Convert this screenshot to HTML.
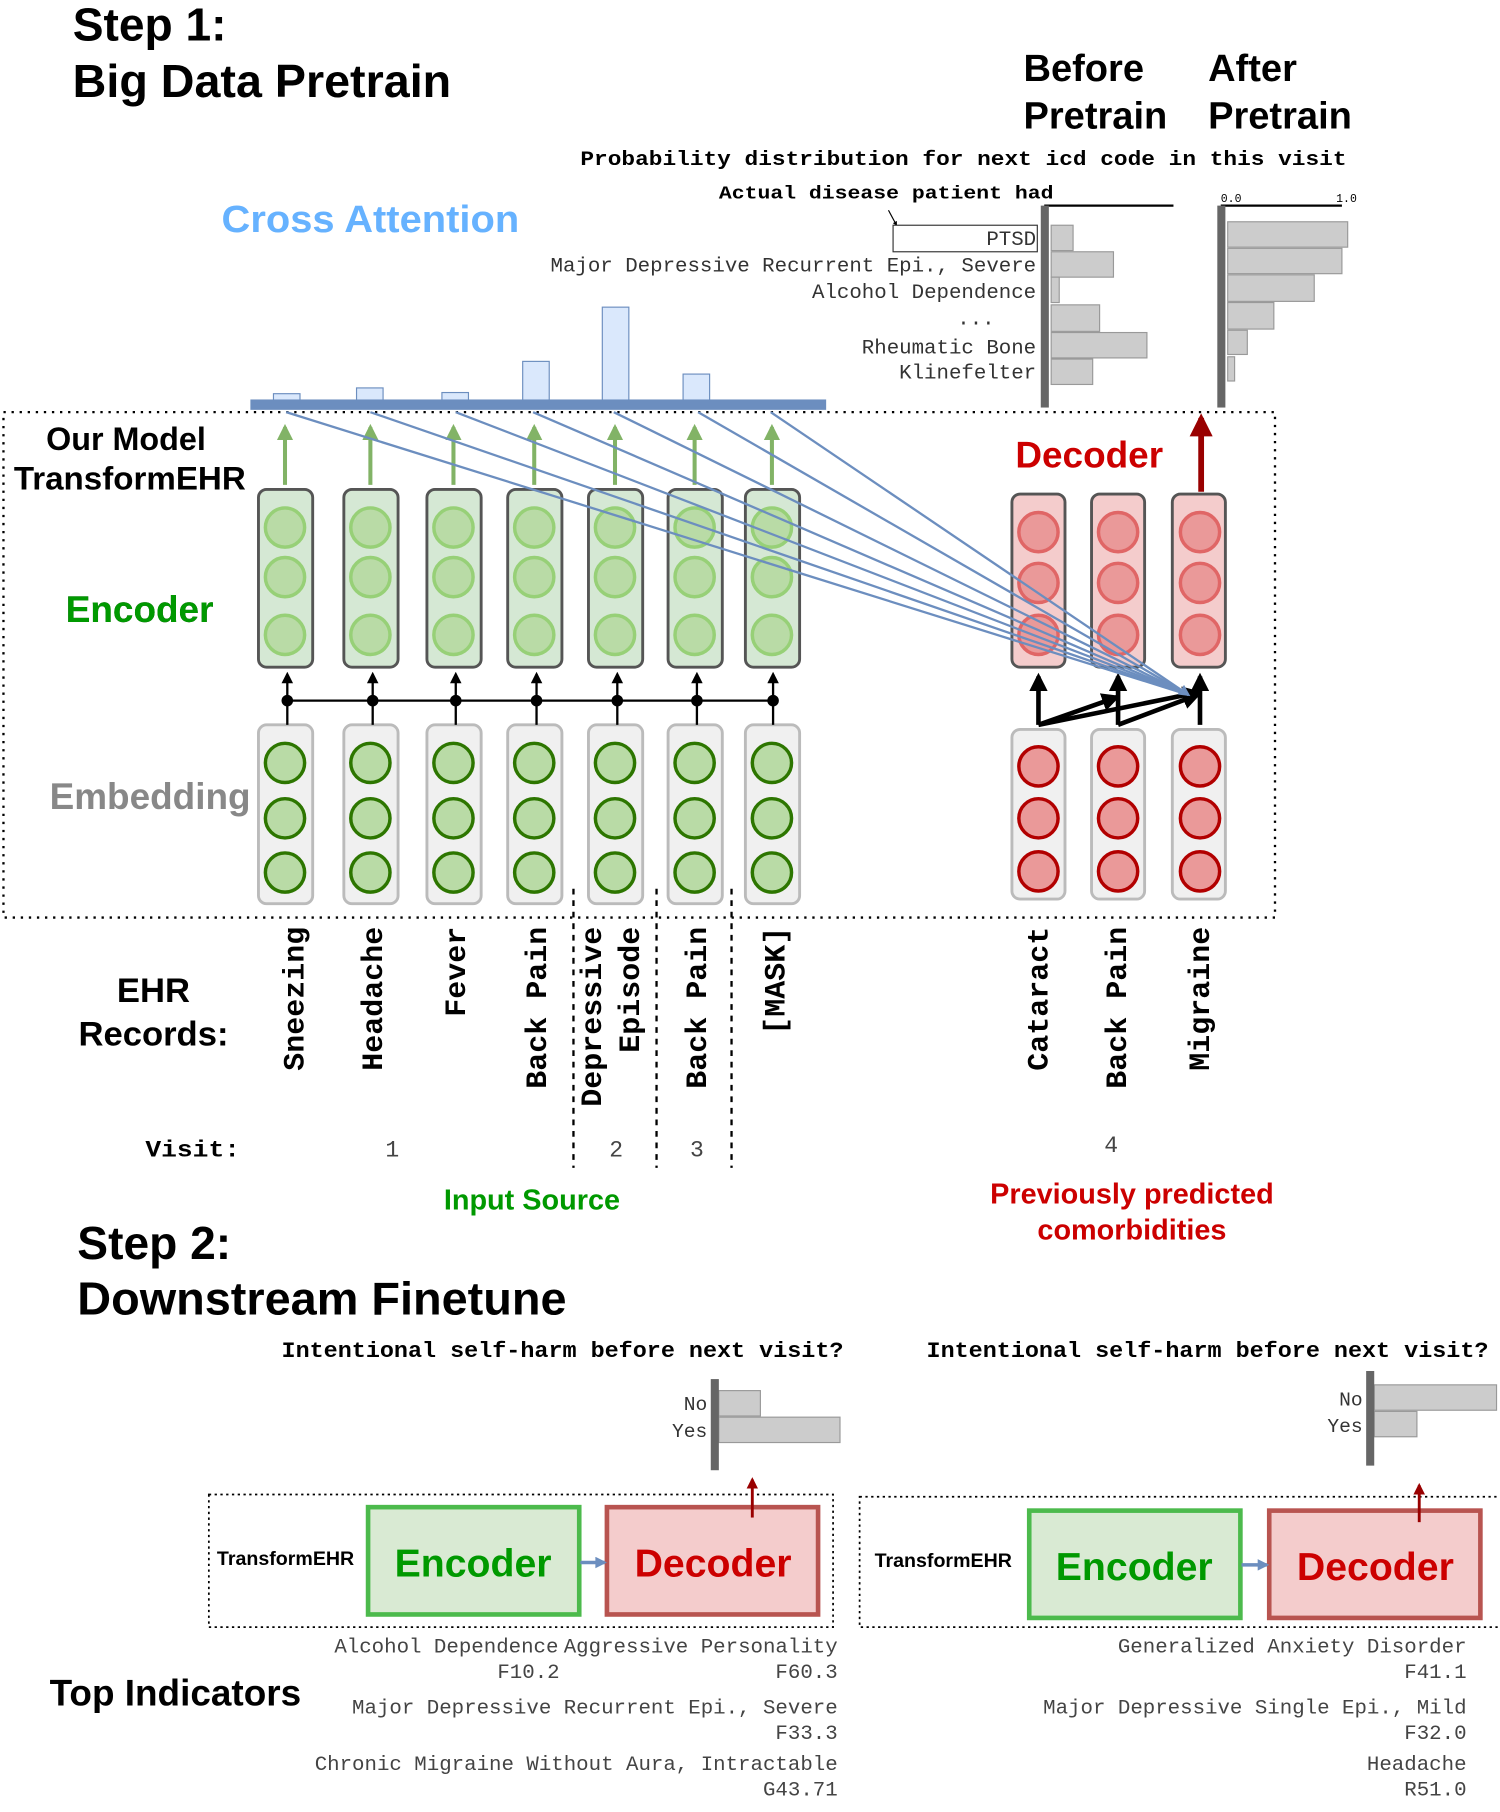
<!DOCTYPE html>
<html><head><meta charset="utf-8"><style>
html,body{margin:0;padding:0;background:#fff;}
svg{display:block;}
.h{font-family:"Liberation Sans",sans-serif;font-weight:bold;}
.m{font-family:"Liberation Mono",monospace;}
.mb{font-family:"Liberation Mono",monospace;font-weight:bold;}
</style></head><body>
<svg width="1500" height="1812" viewBox="0 0 1300 1570" xmlns="http://www.w3.org/2000/svg">
<defs>
<marker id="ab" viewBox="0 0 10 10" refX="8" refY="5" markerWidth="5" markerHeight="5" orient="auto"><path d="M0,0 L10,5 L0,10 z" fill="#000"/></marker>
<marker id="ag" viewBox="0 0 10 10" refX="8" refY="5" markerWidth="4" markerHeight="5" orient="auto"><path d="M0,0 L10,5 L0,10 z" fill="#82b366"/></marker>
<marker id="ar" viewBox="0 0 10 10" refX="8" refY="5" markerWidth="4" markerHeight="4" orient="auto"><path d="M0,0 L10,5 L0,10 z" fill="#990000"/></marker>
<marker id="abl" viewBox="0 0 10 10" refX="8" refY="5" markerWidth="12" markerHeight="10" orient="auto" markerUnits="userSpaceOnUse"><path d="M0,0 L10,5 L0,10 z" fill="#6c8ebf"/></marker>
<marker id="ak" viewBox="0 0 10 10" refX="8" refY="5" markerWidth="4" markerHeight="4" orient="auto"><path d="M0,0 L10,5 L0,10 z" fill="#000"/></marker>
</defs>

<text class="h" x="63" y="35" font-size="40">Step 1:</text>
<text class="h" x="63" y="84" font-size="40" textLength="328" lengthAdjust="spacingAndGlyphs">Big Data Pretrain</text>
<text class="h" x="887" y="70" font-size="33">Before</text>
<text class="h" x="887" y="111" font-size="33">Pretrain</text>
<text class="h" x="1047" y="70" font-size="33">After</text>
<text class="h" x="1047" y="111" font-size="33">Pretrain</text>
<text class="mb" x="503" y="143" font-size="18" textLength="664" lengthAdjust="spacingAndGlyphs">Probability distribution for next icd code in this visit</text>
<text class="mb" x="623" y="172" font-size="16" textLength="290" lengthAdjust="spacingAndGlyphs">Actual disease patient had</text>
<line x1="905" y1="178" x2="1017" y2="178" stroke="#000" stroke-width="2"/>
<line x1="770" y1="182" x2="777" y2="195" stroke="#000" stroke-width="1" marker-end="url(#ak)"/>
<text class="h" x="192" y="201" font-size="33" fill="#66b2ff" textLength="258" lengthAdjust="spacingAndGlyphs">Cross Attention</text>

<rect x="774" y="195" width="125" height="23" fill="#fff" stroke="#333" stroke-width="1"/>
<g class="m" font-size="18" fill="#333" text-anchor="end">
<text x="898" y="212">PTSD</text>
<text x="898" y="235">Major Depressive Recurrent Epi., Severe</text>
<text x="898" y="258">Alcohol Dependence</text>
<text x="862" y="281">...</text>
<text x="898" y="306">Rheumatic Bone</text>
<text x="898" y="328">Klinefelter</text>
</g>
<g fill="#cccccc" stroke="#999" stroke-width="1">
<rect x="911" y="195" width="19" height="22"/>
<rect x="911" y="218" width="54" height="22"/>
<rect x="911" y="240" width="7" height="22"/>
<rect x="911" y="264" width="42" height="23"/>
<rect x="911" y="288" width="83" height="22"/>
<rect x="911" y="311" width="36" height="22"/>
</g>
<rect x="902" y="178" width="7" height="175" fill="#666"/>
<line x1="1058" y1="178" x2="1163" y2="178" stroke="#000" stroke-width="2"/>
<text class="m" x="1058" y="175" font-size="10">0.0</text>
<text class="m" x="1158" y="175" font-size="10">1.0</text>
<g fill="#cccccc" stroke="#999" stroke-width="1">
<rect x="1064" y="192" width="104" height="22"/>
<rect x="1064" y="215" width="99" height="22"/>
<rect x="1064" y="238" width="75" height="23"/>
<rect x="1064" y="262" width="40" height="23"/>
<rect x="1064" y="286" width="17" height="21"/>
<rect x="1064" y="309" width="6" height="21"/>
</g>
<rect x="1055" y="178" width="7" height="175" fill="#666"/>

<g fill="#dae8fc" stroke="#6c8ebf" stroke-width="1">
<rect x="237" y="341" width="23" height="6"/>
<rect x="309" y="336" width="23" height="11"/>
<rect x="383" y="340" width="23" height="7"/>
<rect x="453" y="313" width="23" height="34"/>
<rect x="522" y="266" width="23" height="81"/>
<rect x="592" y="324" width="23" height="23"/>
<rect x="657" y="347" width="23" height="2"/>
</g>
<rect x="217" y="346" width="499" height="9" fill="#6c8ebf"/>

<rect x="3" y="357" width="1102" height="438" fill="none" stroke="#000" stroke-width="2" stroke-dasharray="2,5"/>

<text class="h" x="40" y="390" font-size="28">Our Model</text>
<text class="h" x="12" y="424" font-size="28" textLength="201" lengthAdjust="spacingAndGlyphs">TransformEHR</text>
<text class="h" x="57" y="539" font-size="32">Encoder</text>
<text class="h" x="43" y="701" font-size="32" fill="#888">Embedding</text>
<text class="h" x="880" y="405" font-size="32" fill="#cc0000">Decoder</text>
<text class="h" x="57" y="539" font-size="32" fill="#009900">Encoder</text>

<g stroke="#82b366" stroke-width="3.5" marker-end="url(#ag)">
<line x1="247" y1="420" x2="247" y2="370"/><line x1="321" y1="420" x2="321" y2="370"/><line x1="393" y1="420" x2="393" y2="370"/><line x1="463" y1="420" x2="463" y2="370"/><line x1="533" y1="420" x2="533" y2="370"/><line x1="602" y1="420" x2="602" y2="370"/><line x1="669" y1="420" x2="669" y2="370"/>
</g>
<g fill="#d5e8d4" stroke="#555" stroke-width="2.5">
<rect x="224" y="424" width="47" height="154" rx="7"/><rect x="298" y="424" width="47" height="154" rx="7"/><rect x="370" y="424" width="47" height="154" rx="7"/><rect x="440" y="424" width="47" height="154" rx="7"/><rect x="510" y="424" width="47" height="154" rx="7"/><rect x="579" y="424" width="47" height="154" rx="7"/><rect x="646" y="424" width="47" height="154" rx="7"/>
</g>
<g fill="#b9dba6" stroke="#97d077" stroke-width="3">
<circle cx="247" cy="457" r="17"/><circle cx="247" cy="500" r="17"/><circle cx="247" cy="550" r="17"/>
<circle cx="321" cy="457" r="17"/><circle cx="321" cy="500" r="17"/><circle cx="321" cy="550" r="17"/>
<circle cx="393" cy="457" r="17"/><circle cx="393" cy="500" r="17"/><circle cx="393" cy="550" r="17"/>
<circle cx="463" cy="457" r="17"/><circle cx="463" cy="500" r="17"/><circle cx="463" cy="550" r="17"/>
<circle cx="533" cy="457" r="17"/><circle cx="533" cy="500" r="17"/><circle cx="533" cy="550" r="17"/>
<circle cx="602" cy="457" r="17"/><circle cx="602" cy="500" r="17"/><circle cx="602" cy="550" r="17"/>
<circle cx="669" cy="457" r="17"/><circle cx="669" cy="500" r="17"/><circle cx="669" cy="550" r="17"/>
</g>

<g fill="#f0f0f0" stroke="#bbb" stroke-width="2.5">
<rect x="224" y="628" width="47" height="155" rx="7"/><rect x="298" y="628" width="47" height="155" rx="7"/><rect x="370" y="628" width="47" height="155" rx="7"/><rect x="440" y="628" width="47" height="155" rx="7"/><rect x="510" y="628" width="47" height="155" rx="7"/><rect x="579" y="628" width="47" height="155" rx="7"/><rect x="646" y="628" width="47" height="155" rx="7"/>
</g>
<g fill="#b9dba6" stroke="#2d7600" stroke-width="3">
<circle cx="247" cy="661" r="17"/><circle cx="247" cy="709" r="17"/><circle cx="247" cy="756" r="17"/>
<circle cx="321" cy="661" r="17"/><circle cx="321" cy="709" r="17"/><circle cx="321" cy="756" r="17"/>
<circle cx="393" cy="661" r="17"/><circle cx="393" cy="709" r="17"/><circle cx="393" cy="756" r="17"/>
<circle cx="463" cy="661" r="17"/><circle cx="463" cy="709" r="17"/><circle cx="463" cy="756" r="17"/>
<circle cx="533" cy="661" r="17"/><circle cx="533" cy="709" r="17"/><circle cx="533" cy="756" r="17"/>
<circle cx="602" cy="661" r="17"/><circle cx="602" cy="709" r="17"/><circle cx="602" cy="756" r="17"/>
<circle cx="669" cy="661" r="17"/><circle cx="669" cy="709" r="17"/><circle cx="669" cy="756" r="17"/>
</g>
<line x1="247" y1="607" x2="669" y2="607" stroke="#000" stroke-width="2"/>
<g stroke="#000" stroke-width="2">
<line x1="249" y1="628" x2="249" y2="607"/><line x1="323" y1="628" x2="323" y2="607"/><line x1="395" y1="628" x2="395" y2="607"/><line x1="465" y1="628" x2="465" y2="607"/><line x1="535" y1="628" x2="535" y2="607"/><line x1="604" y1="628" x2="604" y2="607"/><line x1="670" y1="628" x2="670" y2="607"/>
</g>
<g stroke="#000" stroke-width="2" marker-end="url(#ab)">
<line x1="249" y1="607" x2="249" y2="584"/><line x1="323" y1="607" x2="323" y2="584"/><line x1="395" y1="607" x2="395" y2="584"/><line x1="465" y1="607" x2="465" y2="584"/><line x1="535" y1="607" x2="535" y2="584"/><line x1="604" y1="607" x2="604" y2="584"/><line x1="670" y1="607" x2="670" y2="584"/>
</g>
<g fill="#000">
<circle cx="249" cy="607" r="5"/><circle cx="323" cy="607" r="5"/><circle cx="395" cy="607" r="5"/><circle cx="465" cy="607" r="5"/><circle cx="535" cy="607" r="5"/><circle cx="604" cy="607" r="5"/><circle cx="670" cy="607" r="5"/>
</g>

<g fill="#f4cccc" stroke="#555" stroke-width="2.5">
<rect x="877" y="428" width="46" height="150" rx="7"/><rect x="946" y="428" width="46" height="150" rx="7"/><rect x="1016" y="428" width="46" height="150" rx="7"/>
</g>
<g fill="#ea9999" stroke="#e06666" stroke-width="3">
<circle cx="900" cy="461" r="17"/><circle cx="900" cy="505" r="17"/><circle cx="900" cy="550" r="17"/>
<circle cx="969" cy="461" r="17"/><circle cx="969" cy="505" r="17"/><circle cx="969" cy="550" r="17"/>
<circle cx="1040" cy="461" r="17"/><circle cx="1040" cy="505" r="17"/><circle cx="1040" cy="550" r="17"/>
</g>
<g fill="#f0f0f0" stroke="#bbb" stroke-width="2.5">
<rect x="877" y="632" width="46" height="147" rx="7"/><rect x="946" y="632" width="46" height="147" rx="7"/><rect x="1016" y="632" width="46" height="147" rx="7"/>
</g>
<g fill="#ea9999" stroke="#b20000" stroke-width="3">
<circle cx="900" cy="664" r="17"/><circle cx="900" cy="709" r="17"/><circle cx="900" cy="755" r="17"/>
<circle cx="969" cy="664" r="17"/><circle cx="969" cy="709" r="17"/><circle cx="969" cy="755" r="17"/>
<circle cx="1040" cy="664" r="17"/><circle cx="1040" cy="709" r="17"/><circle cx="1040" cy="755" r="17"/>
</g>
<line x1="1041" y1="426" x2="1041" y2="362" stroke="#990000" stroke-width="5" marker-end="url(#ar)"/>
<g stroke="#000" stroke-width="4" marker-end="url(#ak)">
<line x1="900" y1="628" x2="900" y2="586"/>
<line x1="969" y1="628" x2="969" y2="586"/>
<line x1="1040" y1="628" x2="1040" y2="586"/>
<line x1="900" y1="628" x2="968" y2="604"/>
<line x1="900" y1="628" x2="1038" y2="600"/>
<line x1="969" y1="628" x2="1038" y2="602"/>
</g>
<g stroke="#6c8ebf" stroke-width="2" fill="none">
<line x1="248" y1="357" x2="1030" y2="602"/>
<line x1="321" y1="357" x2="1030" y2="602"/>
<line x1="395" y1="357" x2="1030" y2="602"/>
<line x1="462" y1="357" x2="1030" y2="602"/>
<line x1="532" y1="357" x2="1030" y2="602"/>
<line x1="605" y1="357" x2="1030" y2="602"/>
<line x1="668" y1="357" x2="1030" y2="602" marker-end="url(#abl)"/>
</g>

<g stroke="#000" stroke-width="2" stroke-dasharray="5,5">
<line x1="497" y1="770" x2="497" y2="1012"/>
<line x1="569" y1="770" x2="569" y2="1012"/>
<line x1="634" y1="770" x2="634" y2="1012"/>
</g>

<g class="mb" font-size="26" text-anchor="end">
<text transform="translate(263,803) rotate(-90)">Sneezing</text>
<text transform="translate(331,803) rotate(-90)">Headache</text>
<text transform="translate(403,803) rotate(-90)">Fever</text>
<text transform="translate(473,803) rotate(-90)">Back Pain</text>
<text transform="translate(521,803) rotate(-90)">Depressive</text>
<text transform="translate(554,803) rotate(-90)">Episode</text>
<text transform="translate(612,803) rotate(-90)">Back Pain</text>
<text transform="translate(680,803) rotate(-90)">[MASK]</text>
<text transform="translate(908,803) rotate(-90)">Cataract</text>
<text transform="translate(976,803) rotate(-90)">Back Pain</text>
<text transform="translate(1048,803) rotate(-90)">Migraine</text>
</g>
<text class="h" x="133" y="868" font-size="30" text-anchor="middle">EHR</text>
<text class="h" x="133" y="906" font-size="30" text-anchor="middle">Records:</text>
<text class="mb" x="126" y="1002" font-size="20" textLength="82" lengthAdjust="spacingAndGlyphs">Visit:</text>
<g class="m" font-size="20" fill="#444" text-anchor="middle">
<text x="340" y="1002">1</text><text x="534" y="1002">2</text><text x="604" y="1002">3</text><text x="963" y="998">4</text>
</g>
<text class="h" x="461" y="1048" font-size="25" fill="#009900" text-anchor="middle">Input Source</text>
<text class="h" x="981" y="1043" font-size="25" fill="#cc0000" text-anchor="middle">Previously predicted</text>
<text class="h" x="981" y="1074" font-size="25" fill="#cc0000" text-anchor="middle">comorbidities</text>

<text class="h" x="67" y="1091" font-size="40">Step 2:</text>
<text class="h" x="67" y="1139" font-size="40" textLength="424" lengthAdjust="spacingAndGlyphs">Downstream Finetune</text>
<text class="mb" x="244" y="1176" font-size="19" textLength="487" lengthAdjust="spacingAndGlyphs">Intentional self-harm before next visit?</text>
<text class="mb" x="803" y="1176" font-size="19" textLength="487" lengthAdjust="spacingAndGlyphs">Intentional self-harm before next visit?</text>

<g fill="#cccccc" stroke="#999" stroke-width="1">
<rect x="623" y="1205" width="36" height="22"/>
<rect x="623" y="1228" width="105" height="22"/>
<rect x="1191" y="1200" width="106" height="22"/>
<rect x="1191" y="1223" width="37" height="22"/>
</g>
<rect x="616" y="1195" width="7" height="79" fill="#666"/>
<rect x="1184" y="1188" width="7" height="82" fill="#666"/>
<g class="m" font-size="17" fill="#333" text-anchor="end">
<text x="613" y="1222">No</text><text x="613" y="1245">Yes</text>
<text x="1181" y="1218">No</text><text x="1181" y="1241">Yes</text>
</g>

<rect x="181" y="1295" width="541" height="115" fill="none" stroke="#000" stroke-width="1.5" stroke-dasharray="2,3"/>
<rect x="745" y="1297" width="560" height="113" fill="none" stroke="#000" stroke-width="1.5" stroke-dasharray="2,3"/>
<text class="h" x="188" y="1356" font-size="17">TransformEHR</text>
<text class="h" x="758" y="1358" font-size="17">TransformEHR</text>

<rect x="319" y="1306" width="183" height="93" fill="#d9ead3" stroke="#4cba4c" stroke-width="4"/>
<rect x="526" y="1306" width="183" height="93" fill="#f4cccc" stroke="#b85450" stroke-width="4"/>
<text class="h" x="410" y="1366" font-size="34" fill="#009900" text-anchor="middle">Encoder</text>
<text class="h" x="618" y="1366" font-size="34" fill="#cc0000" text-anchor="middle">Decoder</text>
<line x1="503" y1="1354" x2="524" y2="1354" stroke="#6c8ebf" stroke-width="3" marker-end="url(#abl)"/>
<line x1="652" y1="1315" x2="652" y2="1282" stroke="#990000" stroke-width="2.5" marker-end="url(#ar)"/>

<rect x="892" y="1309" width="183" height="93" fill="#d9ead3" stroke="#4cba4c" stroke-width="4"/>
<rect x="1100" y="1309" width="183" height="93" fill="#f4cccc" stroke="#b85450" stroke-width="4"/>
<text class="h" x="983" y="1369" font-size="34" fill="#009900" text-anchor="middle">Encoder</text>
<text class="h" x="1192" y="1369" font-size="34" fill="#cc0000" text-anchor="middle">Decoder</text>
<line x1="1076" y1="1356" x2="1098" y2="1356" stroke="#6c8ebf" stroke-width="3" marker-end="url(#abl)"/>
<line x1="1230" y1="1319" x2="1230" y2="1287" stroke="#990000" stroke-width="2.5" marker-end="url(#ar)"/>

<text class="h" x="43" y="1478" font-size="32">Top Indicators</text>
<g class="m" font-size="18" fill="#444" text-anchor="end">
<text x="484" y="1432">Alcohol Dependence</text>
<text x="726" y="1432">Aggressive Personality</text>
<text x="485" y="1454">F10.2</text>
<text x="726" y="1454">F60.3</text>
<text x="726" y="1485">Major Depressive Recurrent Epi., Severe</text>
<text x="726" y="1507">F33.3</text>
<text x="726" y="1534">Chronic Migraine Without Aura, Intractable</text>
<text x="726" y="1556">G43.71</text>
<text x="1271" y="1432">Generalized Anxiety Disorder</text>
<text x="1271" y="1454">F41.1</text>
<text x="1271" y="1485">Major Depressive Single Epi., Mild</text>
<text x="1271" y="1507">F32.0</text>
<text x="1271" y="1534">Headache</text>
<text x="1271" y="1556">R51.0</text>
</g>
</svg>
</body></html>
